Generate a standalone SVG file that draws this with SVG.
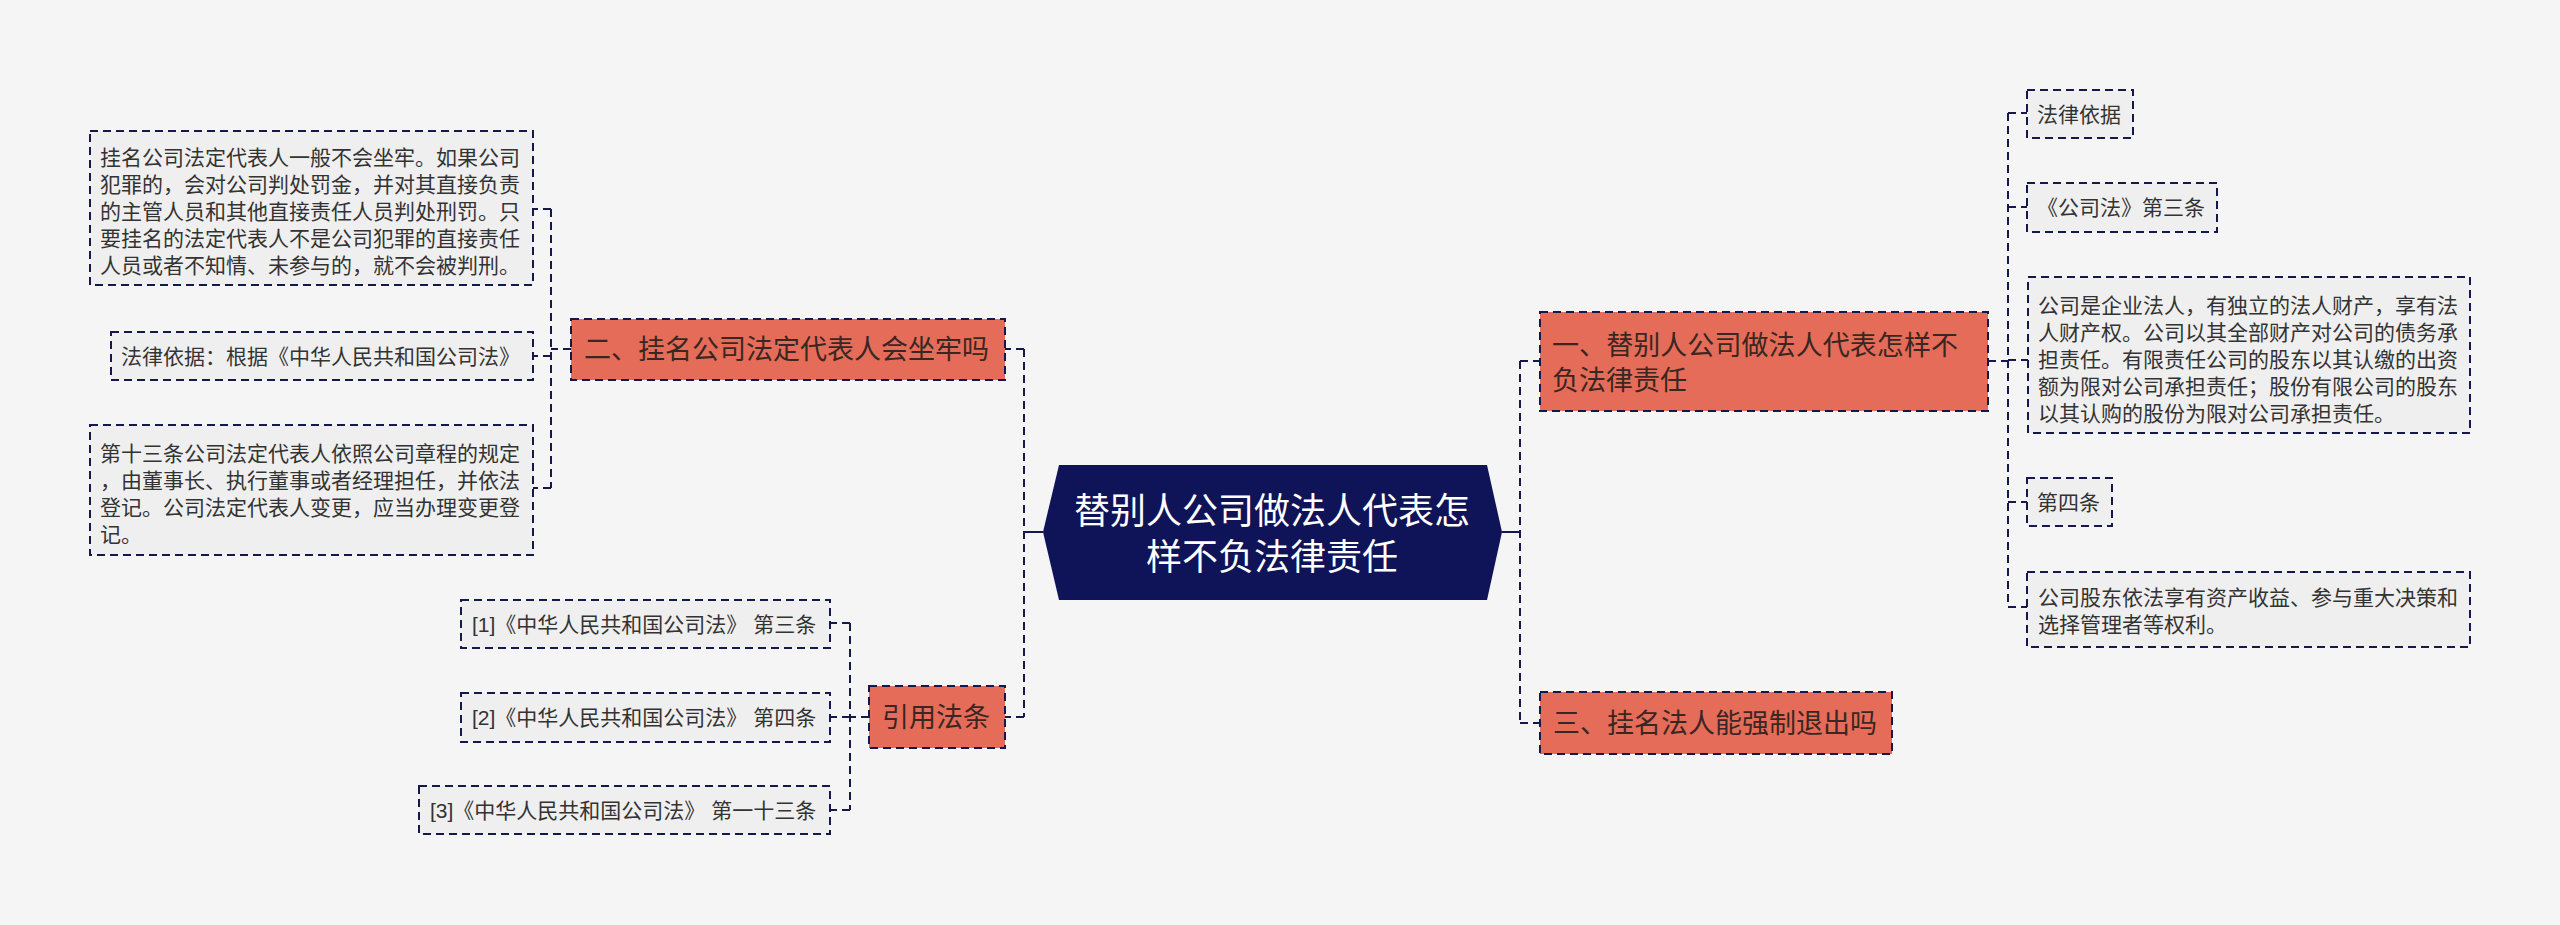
<svg xmlns="http://www.w3.org/2000/svg" width="2560" height="925" viewBox="0 0 2560 925">
<style>
text{font-family:"Liberation Sans","Noto Sans CJK SC",sans-serif;}
.leaf rect{fill:#efefef;stroke:#14184a;stroke-width:2;stroke-dasharray:8 5;}
.leaf text{font-size:21px;fill:#333333;}
.l1 rect{fill:#e46c58;stroke:#14184a;stroke-width:2;stroke-dasharray:8 5;}
.l1 text{font-size:27px;fill:#3a2622;}
.root text{font-size:36px;fill:#ffffff;text-anchor:middle;}
.conn path{fill:none;stroke:#14184a;stroke-width:2;stroke-dasharray:8 5;}
.conn path.solid{stroke-dasharray:none;}
</style>
<rect x="0" y="0" width="2560" height="925" fill="#f5f5f5"/>
<g class="conn" id="connectors">
<path class="solid" d="M1043 532 H1024"/>
<path d="M1024 349 V717"/>
<path d="M1024 349 H1005"/>
<path d="M1024 717 H1005"/>
<path d="M571 349 H551"/>
<path d="M551 209 V488"/>
<path d="M551 209 H533"/>
<path d="M551 356 H533"/>
<path d="M551 488 H533"/>
<path d="M869 717 H850"/>
<path d="M850 623 V810"/>
<path d="M850 623 H830"/>
<path d="M850 717 H830"/>
<path d="M850 810 H830"/>
<path class="solid" d="M1502 532 H1520"/>
<path d="M1520 361 V723"/>
<path d="M1520 361 H1540"/>
<path d="M1520 723 H1540"/>
<path d="M1988 361 H2008"/>
<path d="M2008 113 V607"/>
<path d="M2008 113 H2027"/>
<path d="M2008 207 H2027"/>
<path d="M2008 360 H2028"/>
<path d="M2008 502 H2027"/>
<path d="M2008 607 H2027"/>
</g>
<g class="root" id="root">
<polygon points="1043,532 1059,465 1487,465 1502,532 1487,600 1059,600" fill="#0f1357"/>
<text x="1272" y="524">替别人公司做法人代表怎</text>
<text x="1272" y="570">样不负法律责任</text>
</g>
<g class="l1" id="n2">
<rect x="571" y="319" width="434" height="61"/>
<text x="584" y="359">二、挂名公司法定代表人会坐牢吗</text>
</g>
<g class="l1" id="n-cite">
<rect x="869" y="686" width="136" height="62"/>
<text x="882" y="727">引用法条</text>
</g>
<g class="l1" id="n1">
<rect x="1540" y="312" width="448" height="99"/>
<text x="1552" y="355" textLength="406" lengthAdjust="spacing">一、替别人公司做法人代表怎样不</text>
<text x="1552" y="390">负法律责任</text>
</g>
<g class="l1" id="n3">
<rect x="1540" y="692" width="352" height="62"/>
<text x="1553" y="733">三、挂名法人能强制退出吗</text>
</g>
<g class="leaf" id="n2-a">
<rect x="90" y="131" width="443" height="154"/>
<text x="100" y="165">挂名公司法定代表人一般不会坐牢。如果公司</text>
<text x="100" y="192">犯罪的，会对公司判处罚金，并对其直接负责</text>
<text x="100" y="219">的主管人员和其他直接责任人员判处刑罚。只</text>
<text x="100" y="246">要挂名的法定代表人不是公司犯罪的直接责任</text>
<text x="100" y="273">人员或者不知情、未参与的，就不会被判刑。</text>
</g>
<g class="leaf" id="n2-b">
<rect x="111" y="332" width="422" height="48"/>
<text x="121" y="364">法律依据：根据《中华人民共和国公司法》</text>
</g>
<g class="leaf" id="n2-c">
<rect x="90" y="425" width="443" height="130"/>
<text x="100" y="461">第十三条公司法定代表人依照公司章程的规定</text>
<text x="100" y="488">，由董事长、执行董事或者经理担任，并依法</text>
<text x="100" y="515">登记。公司法定代表人变更，应当办理变更登</text>
<text x="100" y="542">记。</text>
</g>
<g class="leaf" id="cite-1">
<rect x="461" y="600" width="369" height="48"/>
<text x="472" y="632">[1]《中华人民共和国公司法》 第三条</text>
</g>
<g class="leaf" id="cite-2">
<rect x="461" y="693" width="369" height="49"/>
<text x="472" y="725">[2]《中华人民共和国公司法》 第四条</text>
</g>
<g class="leaf" id="cite-3">
<rect x="419" y="786" width="411" height="48"/>
<text x="430" y="818">[3]《中华人民共和国公司法》 第一十三条</text>
</g>
<g class="leaf" id="n1-a">
<rect x="2027" y="90" width="106" height="48"/>
<text x="2037" y="122">法律依据</text>
</g>
<g class="leaf" id="n1-b">
<rect x="2027" y="183" width="190" height="49"/>
<text x="2037" y="215">《公司法》第三条</text>
</g>
<g class="leaf" id="n1-c">
<rect x="2028" y="277" width="442" height="156"/>
<text x="2038" y="313">公司是企业法人，有独立的法人财产，享有法</text>
<text x="2038" y="340">人财产权。公司以其全部财产对公司的债务承</text>
<text x="2038" y="367">担责任。有限责任公司的股东以其认缴的出资</text>
<text x="2038" y="394">额为限对公司承担责任；股份有限公司的股东</text>
<text x="2038" y="421">以其认购的股份为限对公司承担责任。</text>
</g>
<g class="leaf" id="n1-d">
<rect x="2027" y="478" width="85" height="48"/>
<text x="2037" y="510">第四条</text>
</g>
<g class="leaf" id="n1-e">
<rect x="2027" y="572" width="443" height="75"/>
<text x="2038" y="605">公司股东依法享有资产收益、参与重大决策和</text>
<text x="2038" y="632">选择管理者等权利。</text>
</g>
</svg>
